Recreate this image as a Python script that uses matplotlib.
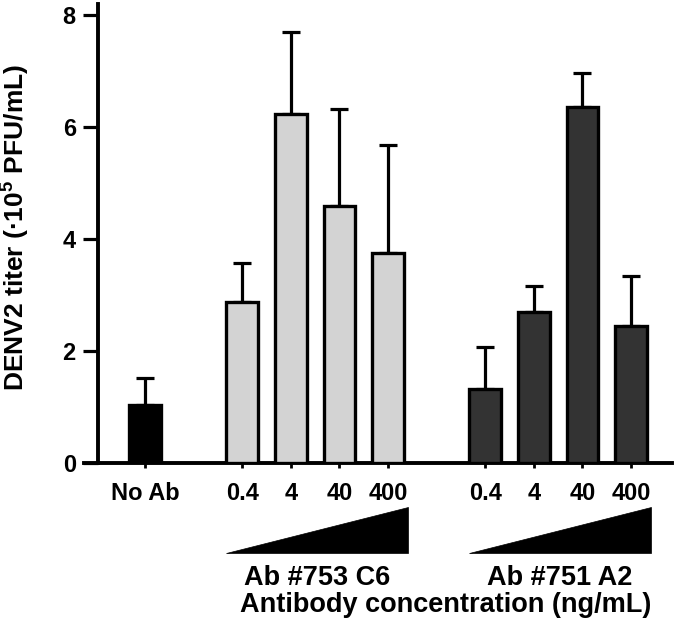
import matplotlib
matplotlib.use('Agg')
import matplotlib.pyplot as plt
from matplotlib.patches import Polygon
import numpy as np

plt.rcParams['font.family'] = ['Liberation Sans', 'DejaVu Sans']
plt.rcParams['font.weight'] = 'bold'
plt.rcParams['mathtext.fontset'] = 'custom'
plt.rcParams['mathtext.rm'] = 'Liberation Sans:bold'
plt.rcParams['mathtext.bf'] = 'Liberation Sans:bold'

# data (x10^5 PFU/mL)
labels = ["No Ab", "0.4", "4", "40", "400", "0.4", "4", "40", "400"]
slots = [0, 2, 3, 4, 5, 7, 8, 9, 10]
means = [1.04, 2.87, 6.24, 4.60, 3.76, 1.32, 2.70, 6.35, 2.45]
sd = [0.48, 0.71, 1.46, 1.72, 1.92, 0.76, 0.47, 0.62, 0.90]
colors = ['#000000'] + ['#d3d3d3'] * 4 + ['#333333'] * 4
antibodies = ["Ab #753 C6", "Ab #751 A2"]
groups = [[2, 3, 4, 5], [7, 8, 9, 10]]
yticks = [0, 2, 4, 6, 8]

fig = plt.figure(figsize=(6.75, 6.29), dpi=100)
ax = fig.add_axes([0.1248, 0.2634, 0.8713, 0.7306])

x = np.array(slots, dtype=float)
ax.bar(x, means, width=0.65, color=colors, edgecolor='black', linewidth=2.4, zorder=3)
ax.errorbar(x, means, yerr=[np.zeros(len(sd)), sd], fmt='none', ecolor='black',
            elinewidth=2.3, capsize=6.8, capthick=2.3, zorder=2)

ax.set_xlim(-1.25, 10.85)
ax.set_ylim(0, 8.2)
ax.set_xticks(x)
ax.set_xticklabels(labels)
ax.set_yticks(yticks)

for s in ['top', 'right']:
    ax.spines[s].set_visible(False)
ax.spines['left'].set_position(('data', -0.967))
ax.spines['left'].set_linewidth(2.8)
ax.spines['bottom'].set_linewidth(2.8)
ax.tick_params(axis='y', length=10.5, width=2.3, pad=5.5, labelsize=17)
ax.tick_params(axis='x', length=3.8, width=2.0, pad=10, labelsize=17)
for t in ax.get_xticklabels() + ax.get_yticklabels():
    t.set_fontweight('bold')

# concentration wedges and antibody names under each group
for name, g in zip(antibodies, groups):
    x0 = g[0] - 0.34
    x1 = g[-1] + 0.42
    tri = Polygon([[x0, -1.60], [x1, -1.60], [x1, -0.78]], closed=True,
                  facecolor='black', edgecolor='black', linewidth=0.5, clip_on=False)
    ax.add_patch(tri)
    ax.text((x0 + x1) / 2, -2.05, name, ha='center', va='center',
            fontsize=19.5, fontweight='bold', clip_on=False)

ax.text(6.19, -2.53, "Antibody concentration (ng/mL)", ha='center', va='center',
        fontsize=19.5, fontweight='bold', clip_on=False)

fig.text(15 / 675, 1 - 227.5 / 629, r"DENV2 titer (·10$^{5}$ PFU/mL)", rotation=90,
         ha='center', va='center', fontsize=19, fontweight='bold')

fig.savefig('out.png', dpi=100)
